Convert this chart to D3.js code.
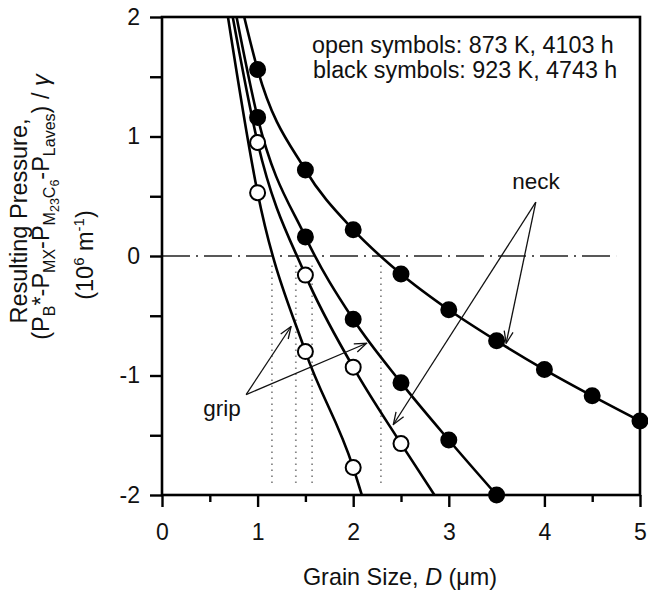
<!DOCTYPE html>
<html>
<head>
<meta charset="utf-8">
<script src="https://cdn.jsdelivr.net/npm/d3@7"></script>
<style>
  body { margin: 0; background: #fff; }
  text { font-family: "Liberation Sans", Arial, sans-serif; fill: #111; }
</style>
</head>
<body>
<div id="chart"></div>
<script>
// grain sizes of the symbols (um)
var grain = [1, 1.5, 2, 2.5, 3, 3.5, 4, 4.5, 5];
// resulting pressure (10^6 m^-1)
var neck923 = [1.56, 0.72, 0.22, -0.15, -0.45, -0.71, -0.95, -1.17, -1.38];
var grip923 = [1.16, 0.16, -0.53, -1.06, -1.54, -2.0];
var neck873 = [0.95, -0.16, -0.93, -1.57];
var grip873 = [0.53, -0.80, -1.77];
// where each fitted curve enters at the top and leaves at the bottom
var topEdge = [0.86, 0.78, 0.74, 0.69];
var bottomEdge = [null, null, 2.85, 2.09];
// grain sizes where the curves cross zero (dotted lines)
var zeroCross = [1.15, 1.40, 1.57, 2.29];
var xTicks = [0, 1, 2, 3, 4, 5];
var yTicks = [-2, -1, 0, 1, 2];

var width = 648, height = 594;
var margin = { top: 17, right: 8, bottom: 99, left: 162 };

var svg = d3.select("#chart").append("svg")
    .attr("width", width)
    .attr("height", height);

var x = d3.scaleLinear().domain([0, 5]).range([margin.left, width - margin.right]);
var y = d3.scaleLinear().domain([-2, 2]).range([height - margin.bottom, margin.top]);

var series = [
    { vals: neck923, filled: true, top: topEdge[0], bottom: bottomEdge[0] },
    { vals: grip923, filled: true, top: topEdge[1], bottom: bottomEdge[1] },
    { vals: neck873, filled: false, top: topEdge[2], bottom: bottomEdge[2] },
    { vals: grip873, filled: false, top: topEdge[3], bottom: bottomEdge[3] }
];

svg.append("clipPath").attr("id", "plot")
  .append("rect")
    .attr("x", x(0)).attr("y", y(2))
    .attr("width", x(5) - x(0)).attr("height", y(-2) - y(2));

// arrow head, open V
svg.append("defs").append("marker")
    .attr("id", "arrow")
    .attr("viewBox", "-13 -6 14 12")
    .attr("refX", 0).attr("refY", 0)
    .attr("markerUnits", "userSpaceOnUse")
    .attr("markerWidth", 14).attr("markerHeight", 12)
    .attr("orient", "auto")
  .append("path")
    .attr("d", "M-12,-4.5L0,0L-12,4.5")
    .attr("fill", "none")
    .attr("stroke", "#111")
    .attr("stroke-width", 1.3);

// zero line
svg.append("line")
    .attr("x1", x(0)).attr("x2", x(4.75))
    .attr("y1", y(0)).attr("y2", y(0))
    .attr("stroke", "#222")
    .attr("stroke-width", 1.6)
    .attr("stroke-dasharray", "28,6,2,6");

// dotted lines at the zero crossings
svg.append("g").selectAll("line")
    .data(zeroCross)
    .enter().append("line")
    .attr("x1", d => x(d)).attr("x2", d => x(d))
    .attr("y1", y(-0.08)).attr("y2", y(-1.9))
    .attr("stroke", "#888")
    .attr("stroke-width", 1.8)
    .attr("stroke-dasharray", "1.5,4.5");

// fitted curves
var line = d3.line()
    .x(d => x(d[0]))
    .y(d => y(d[1]))
    .curve(d3.curveMonotoneX);

series.forEach(function (s) {
    var pts = [[s.top, 2]].concat(s.vals.map((v, i) => [grain[i], v]));
    if (s.bottom != null) pts.push([s.bottom, -2]);
    svg.append("path")
        .attr("clip-path", "url(#plot)")
        .attr("d", line(pts))
        .attr("fill", "none")
        .attr("stroke", "#000")
        .attr("stroke-width", 2.6);
});

// axes
var xAxis = d3.axisBottom(x).tickValues(xTicks).tickSize(12).tickPadding(17).tickFormat(String);
var xMinor = d3.axisBottom(x).tickValues(d3.range(0.5, 5, 1)).tickSize(7).tickFormat("");
var yAxis = d3.axisLeft(y).tickValues(yTicks).tickSize(12).tickPadding(10).tickFormat(String);
var yMinor = d3.axisLeft(y).tickValues(d3.range(-1.5, 2, 1)).tickSize(12).tickFormat("");

function styleAxis(g) {
    g.selectAll("path, line").attr("stroke", "#000").attr("stroke-width", 2.4);
    g.select(".domain").remove();
    g.selectAll("text").style("font-size", "23px").attr("fill", "#111");
}

svg.append("g").attr("transform", `translate(0,${y(-2)})`).call(xAxis).call(styleAxis);
svg.append("g").attr("transform", `translate(0,${y(-2)})`).call(xMinor).call(styleAxis);
svg.append("g").attr("transform", `translate(${x(0)},0)`).call(yAxis).call(styleAxis);
svg.append("g").attr("transform", `translate(${x(0)},0)`).call(yMinor).call(styleAxis);

// frame
svg.append("rect")
    .attr("x", x(0)).attr("y", y(2))
    .attr("width", x(5) - x(0)).attr("height", y(-2) - y(2))
    .attr("fill", "none")
    .attr("stroke", "#000")
    .attr("stroke-width", 2.6);

// symbols
series.forEach(function (s) {
    svg.append("g").selectAll("circle")
        .data(s.vals)
        .enter().append("circle")
        .attr("cx", (d, i) => x(grain[i]))
        .attr("cy", d => y(d))
        .attr("r", 7.5)
        .attr("fill", s.filled ? "#000" : "#fff")
        .attr("stroke", "#000")
        .attr("stroke-width", 2);
});

// annotations
var gripFrom = [0.88, -1.16];
var gripTo = [[1.35, -0.59], [2.14, -0.73]];
var neckFrom = [3.91, 0.45];
var neckTo = [[2.42, -1.41], [3.60, -0.73]];

function arrows(from, tos) {
    svg.append("g").selectAll("line")
        .data(tos)
        .enter().append("line")
        .attr("x1", x(from[0])).attr("y1", y(from[1]))
        .attr("x2", d => x(d[0])).attr("y2", d => y(d[1]))
        .attr("stroke", "#111")
        .attr("stroke-width", 1.3)
        .attr("marker-end", "url(#arrow)");
}
arrows(gripFrom, gripTo);
arrows(neckFrom, neckTo);

svg.append("text").attr("x", 222).attr("y", 416)
    .attr("text-anchor", "middle").style("font-size", "22.5px").text("grip");
svg.append("text").attr("x", 536).attr("y", 189)
    .attr("text-anchor", "middle").style("font-size", "22.5px").text("neck");

// legend note
svg.append("text").attr("x", 312).attr("y", 53).style("font-size", "23.3px")
    .text("open symbols: 873 K, 4103 h");
svg.append("text").attr("x", 313).attr("y", 78).style("font-size", "23.3px")
    .text("black symbols: 923 K, 4743 h");

// x title
var xt = svg.append("text").attr("x", 400).attr("y", 585)
    .attr("text-anchor", "middle").style("font-size", "23.4px");
xt.append("tspan").text("Grain Size, ");
xt.append("tspan").style("font-style", "italic").text("D");
xt.append("tspan").text(" (\u03bcm)");

// y title, with sub- and superscripts
var sizes = { "0": 23.5, "1": 16, "2": 12.5, "-1": 15 };
var shifts = { "0": 0, "1": 6, "2": 10, "-1": -9 };
function richText(tx, ty, parts) {
    var t = svg.append("text")
        .attr("transform", `translate(${tx},${ty}) rotate(-90)`)
        .attr("text-anchor", "middle");
    var prev = 0;
    parts.forEach(function (p) {
        var lvl = p[1] || 0;
        t.append("tspan")
            .attr("dy", shifts[lvl] - prev)
            .style("font-size", sizes[lvl] + "px")
            .style("font-style", p[2] || null)
            .text(p[0]);
        prev = shifts[lvl];
    });
}
richText(27, 221, [["Resulting Pressure,"]]);
richText(49, 207, [["(P"], ["B", 1], ["*-P"], ["MX", 1], ["-P"], ["M", 1], ["23", 2], ["C", 1], ["6", 2],
    ["-P"], ["Laves", 1], [") / "], ["\u03b3", 0, "italic"]]);
richText(93, 255, [["(10"], ["6", -1], [" m"], ["-1", -1], [")"]]);
</script>
</body>
</html>
